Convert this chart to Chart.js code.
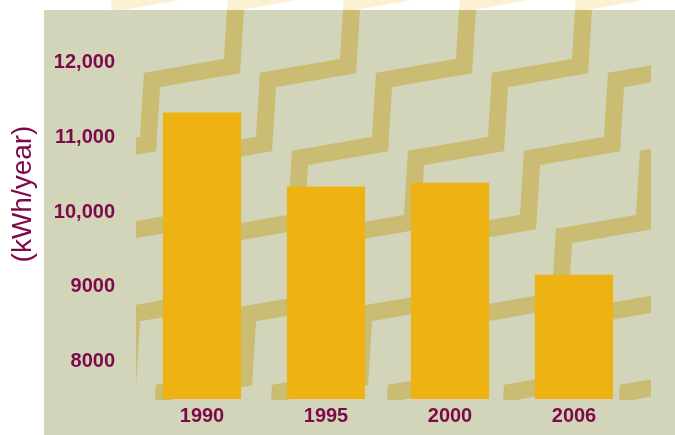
<!DOCTYPE html>
<html>
<head>
<meta charset="utf-8">
<script src="https://cdn.jsdelivr.net/npm/chart.js@4"></script>
<style>
  html, body { margin: 0; padding: 0; background: #ffffff; }
  #wrap { width: 675px; height: 435px; position: relative; }
</style>
</head>
<body>
<div id="wrap"><canvas id="usageChart" width="675" height="435"></canvas></div>
<script>
// Household electricity use per year
const years = ['1990', '1995', '2000', '2006'];
const usage = [11330, 10340, 10390, 9160];
const yTicks = [8000, 9000, 10000, 11000, 12000];
const yTickLabels = ['8000', '9000', '10,000', '11,000', '12,000'];
const yTitle = '(kWh/year)';

const MAROON = '#7d0949';
const PANEL = '#d2d5ba';
const BRUSH = '#cbbc74';
const BRUSH_PALE = '#fcf0d3';
const BAR = '#eeb313';

// draws rows of brush-stroke staircases inside a clip box
function drawStairs(ctx, box, color) {
  ctx.save();
  ctx.beginPath();
  ctx.rect(box.x, box.y, box.w, box.h);
  ctx.clip();
  ctx.strokeStyle = color;
  ctx.lineWidth = 17;
  ctx.lineJoin = 'miter';
  ctx.lineCap = 'butt';
  for (let x0 = -500; x0 < 720; x0 += 116) {
    let x = x0, y = 470;
    ctx.beginPath();
    ctx.moveTo(x, y);
    while (y > -40) {
      x += 80; y -= 14;
      ctx.lineTo(x, y);
      x += 4; y -= 64;
      ctx.lineTo(x, y);
    }
    ctx.stroke();
  }
  ctx.restore();
}

const backdrop = {
  id: 'backdrop',
  beforeDraw(chart) {
    const ctx = chart.ctx;
    ctx.save();
    ctx.fillStyle = '#ffffff';
    ctx.fillRect(0, 0, chart.width, chart.height);
    ctx.fillStyle = PANEL;
    ctx.fillRect(44, 10, chart.width - 44, chart.height - 10);
    ctx.restore();
    drawStairs(ctx, { x: 100, y: 0, w: 575, h: 10 }, BRUSH_PALE);
    drawStairs(ctx, { x: 136, y: 10, w: 515, h: 390 }, BRUSH);
  }
};

// rotated unit label on the left, outside the axis box
const sideTitle = {
  id: 'sideTitle',
  afterDraw(chart) {
    const ctx = chart.ctx;
    ctx.save();
    ctx.translate(23, 194);
    ctx.rotate(-Math.PI / 2);
    ctx.fillStyle = MAROON;
    ctx.font = '28px "Liberation Sans", Arial, sans-serif';
    ctx.textAlign = 'center';
    ctx.textBaseline = 'middle';
    ctx.fillText(yTitle, 0, 0);
    ctx.restore();
  }
};

new Chart(document.getElementById('usageChart'), {
  type: 'bar',
  data: {
    labels: years,
    datasets: [{
      data: usage,
      backgroundColor: BAR,
      borderWidth: 0,
      categoryPercentage: 1,
      barPercentage: 0.63
    }]
  },
  options: {
    responsive: false,
    animation: false,
    layout: { padding: { top: 25, right: 39, bottom: 2, left: 0 } },
    plugins: {
      legend: { display: false },
      tooltip: { enabled: false }
    },
    scales: {
      x: {
        grid: { display: false, drawTicks: false },
        border: { display: false },
        ticks: {
          color: MAROON,
          padding: 5,
          font: { family: '"Liberation Sans", Arial, sans-serif', size: 20, weight: 'bold' }
        }
      },
      y: {
        min: 7500,
        max: 12500,
        // invisible tick marks keep the labels away from the plot
        grid: { display: true, drawOnChartArea: false, drawTicks: true, tickLength: 25, color: 'rgba(0,0,0,0)' },
        border: { display: false },
        afterFit: s => { s.width = 140; },
        afterBuildTicks: s => { s.ticks = yTicks.map(v => ({ value: v })); },
        ticks: {
          color: MAROON,
          padding: 0,
          font: { family: '"Liberation Sans", Arial, sans-serif', size: 20, weight: 'bold' },
          callback: v => yTickLabels[yTicks.indexOf(v)]
        }
      }
    }
  },
  plugins: [backdrop, sideTitle]
});
</script>
</body>
</html>
